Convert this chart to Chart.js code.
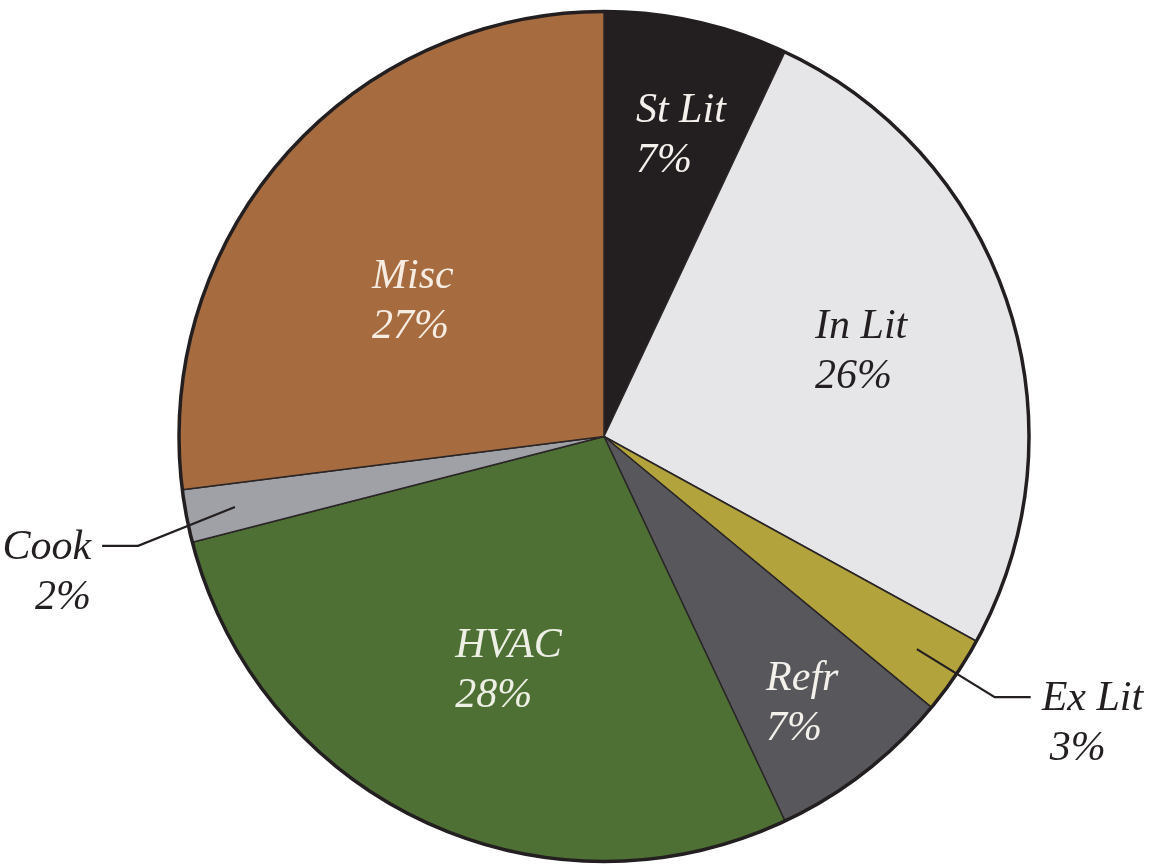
<!DOCTYPE html>
<html>
<head>
<meta charset="utf-8">
<script src="https://cdn.jsdelivr.net/npm/chart.js@4"></script>
<style>
  html, body { margin: 0; padding: 0; background: #ffffff; }
  #wrap { width: 1167px; height: 865px; }
</style>
</head>
<body>
<div id="wrap"><canvas id="chartUso"></canvas></div>
<script>
const categories = ['St Lit', 'In Lit', 'Ex Lit', 'Refr', 'HVAC', 'Cook', 'Misc']
const shares = [7, 26, 3, 7, 28, 2, 27]
const sliceColors = ['#231f20', '#e6e6e8', '#b3a33c', '#58585c', '#4e7034', '#a0a1a6', '#a66b3e']
const textColors = ['#f4f1ec', '#231f20', '#231f20', '#f4f1ec', '#eef0e6', '#231f20', '#f6ece2']

// where each label sits: fraction of the radius + angle shift from the slice middle (degrees)
const insideLabels = {
    0 : { f : 0.744, da : -6.8 },
    1 : { f : 0.548, da : -7.0 },
    3 : { f : 0.708, da : 5.2 },
    4 : { f : 0.626, da : 8.8 },
    6 : { f : 0.648, da : -8.8 }
}
const outsideLabels = {
    2 : { side : 'right', start : 0.89, elbow : 1.105, da : -0.5 },
    5 : { side : 'left', start : 0.884, elbow : 1.126, da : -2.4 }
}

const font = 'italic 42px "Times New Roman", "Liberation Serif", Tinos, serif'
const lineGap = 50

const polar = (arc, f, da) => {
    const a = (arc.startAngle + arc.endAngle) / 2 + da * Math.PI / 180
    return {
        x : arc.x + arc.outerRadius * f * Math.cos(a),
        y : arc.y + arc.outerRadius * f * Math.sin(a)
    }
}

const pieLabels = {
    id : 'pieLabels',
    afterDatasetsDraw(chart) {
        const ctx = chart.ctx
        const arcs = chart.getDatasetMeta(0).data
        const first = arcs[0]

        // heavy outer rim
        ctx.save()
        ctx.beginPath()
        ctx.arc(first.x, first.y, first.outerRadius, 0, Math.PI * 2)
        ctx.lineWidth = 3.5
        ctx.strokeStyle = '#231f20'
        ctx.stroke()
        ctx.restore()

        ctx.save()
        ctx.font = font
        ctx.textBaseline = 'alphabetic'

        arcs.forEach((arc, i) => {
            const lines = [categories[i], shares[i] + '%']
            ctx.fillStyle = textColors[i]

            if (insideLabels[i]) {
                const p = polar(arc, insideLabels[i].f, insideLabels[i].da)
                ctx.textAlign = 'left'
                ctx.fillText(lines[0], p.x, p.y)
                ctx.fillText(lines[1], p.x, p.y + lineGap)
            }

            if (outsideLabels[i]) {
                const cfg = outsideLabels[i]
                const s = polar(arc, cfg.start, 0)
                const e = polar(arc, cfg.elbow, cfg.da)
                const dir = cfg.side === 'right' ? 1 : -1
                const endX = e.x + dir * 36

                ctx.beginPath()
                ctx.moveTo(s.x, s.y)
                ctx.lineTo(e.x, e.y)
                ctx.lineTo(endX, e.y)
                ctx.lineWidth = 2.2
                ctx.strokeStyle = '#231f20'
                ctx.stroke()

                ctx.fillStyle = '#231f20'
                ctx.textAlign = cfg.side === 'right' ? 'left' : 'right'
                const tx = endX + dir * 11
                ctx.fillText(lines[0], tx, e.y + 13)
                ctx.fillText(lines[1], tx + (dir > 0 ? 8 : 0), e.y + 13 + lineGap)
            }
        })
        ctx.restore()
    }
}

const canvas = document.getElementById('chartUso')
const context = canvas.getContext('2d')

const chartUso = new Chart(context, {
    type : 'pie',
    data : {
        labels : categories,
        datasets : [
            {
                data : shares,
                backgroundColor : sliceColors,
                borderColor : '#2a2526',
                borderWidth : 1.5
            }
        ]
    },
    options : {
        responsive : true,
        maintainAspectRatio : false,
        animation : false,
        radius : 425,
        layout : {
            padding : { left : 41, right : 0, top : 8, bottom : 0 }
        },
        plugins : {
            legend : { display : false },
            tooltip : { enabled : false }
        }
    },
    plugins : [pieLabels]
})
</script>
</body>
</html>
